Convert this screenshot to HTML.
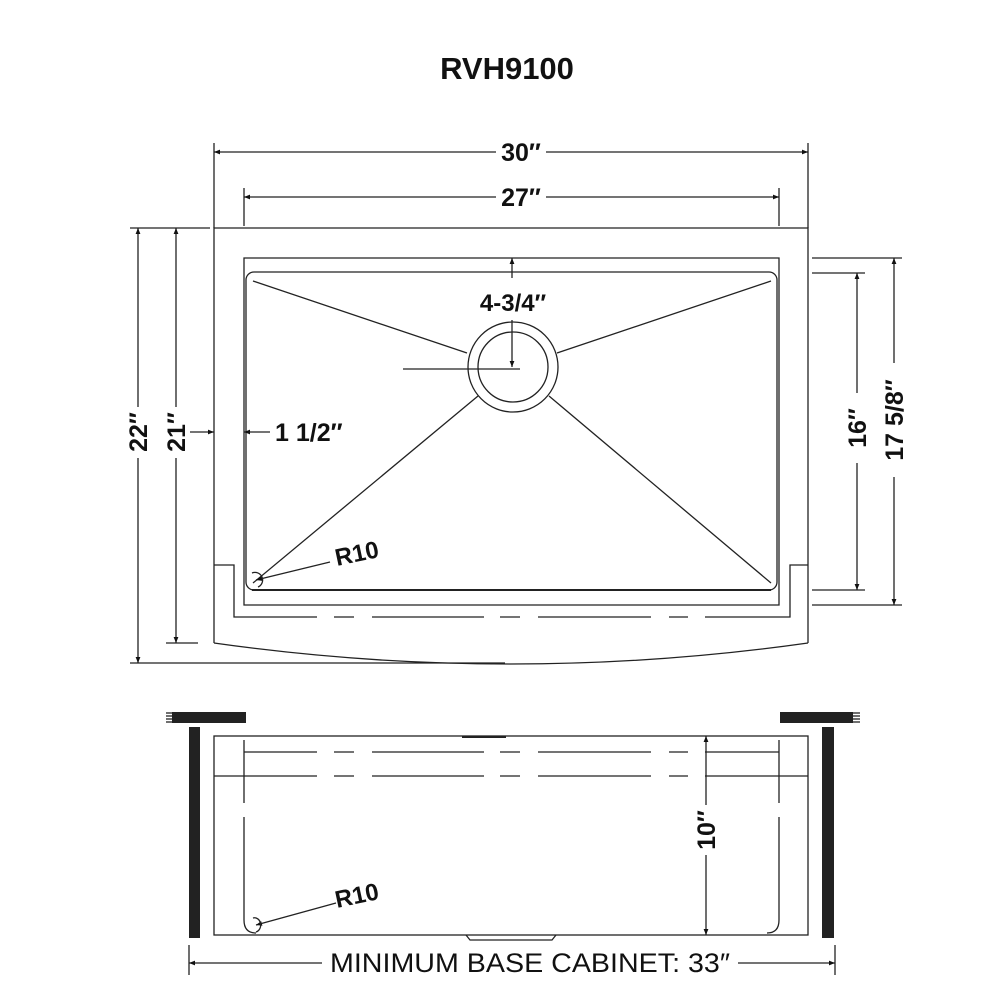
<!DOCTYPE html>
<html><head><meta charset="utf-8"><style>
html,body{margin:0;padding:0;background:#fff;width:1000px;height:1000px;overflow:hidden}
svg{display:block}
text{font-family:"Liberation Sans",sans-serif;fill:#111}
.b{font-weight:bold}
</style></head><body>
<svg width="1000" height="1000" viewBox="0 0 1000 1000" xmlns="http://www.w3.org/2000/svg">
<defs>
<marker id="a" viewBox="0 0 10 10" refX="10" refY="5" markerWidth="8" markerHeight="6" orient="auto-start-reverse" markerUnits="userSpaceOnUse"><path d="M0,1 L10,5 L0,9 z" fill="#111"/></marker>
</defs>
<text x="507" y="79" class="b" font-size="31" text-anchor="middle">RVH9100</text>

<g stroke="#222" stroke-width="1.3" fill="none">
<!-- top dims -->
<line x1="214" y1="143" x2="214" y2="228"/>
<line x1="808" y1="143" x2="808" y2="228"/>
<line x1="214" y1="152" x2="496" y2="152" marker-start="url(#a)"/>
<line x1="546" y1="152" x2="808" y2="152" marker-end="url(#a)"/>
<line x1="244" y1="188" x2="244" y2="226"/>
<line x1="779" y1="188" x2="779" y2="226"/>
<line x1="244" y1="197" x2="496" y2="197" marker-start="url(#a)"/>
<line x1="546" y1="197" x2="779" y2="197" marker-end="url(#a)"/>

<!-- left dims -->
<line x1="130" y1="228" x2="210" y2="228"/>
<line x1="130" y1="663" x2="505" y2="663"/>
<line x1="166" y1="643" x2="198" y2="643"/>
<line x1="138" y1="228" x2="138" y2="407" marker-start="url(#a)"/>
<line x1="138" y1="458" x2="138" y2="663" marker-end="url(#a)"/>
<line x1="176" y1="228" x2="176" y2="407" marker-start="url(#a)"/>
<line x1="176" y1="458" x2="176" y2="643" marker-end="url(#a)"/>

<!-- outer top view -->
<path d="M214,643 L214,228 L808,228 L808,643"/>
<path d="M214,643 Q511,685 808,643"/>
<path d="M214,565 L234,565 L234,617 L317,617"/>
<path d="M808,565 L790,565 L790,617 L705,617"/>
<path d="M334,617 H354 M372,617 H484 M500,617 H520 M538,617 H651 M669,617 H688"/>
<path d="M244,258 L779,258 L779,605 L244,605 Z"/>
<rect x="246" y="272" width="531" height="318" rx="8"/>
<line x1="252" y1="590" x2="771" y2="590" stroke-width="2"/>
<!-- diagonals -->
<line x1="253" y1="281" x2="467" y2="353"/>
<line x1="771" y1="281" x2="557" y2="353"/>
<line x1="253" y1="583" x2="478" y2="396"/>
<line x1="771" y1="583" x2="549" y2="396"/>
<circle cx="513" cy="367" r="45"/>
<circle cx="513" cy="367" r="35"/>
<line x1="403" y1="369" x2="520" y2="369"/>
<line x1="512" y1="258" x2="512" y2="278" marker-start="url(#a)"/>
<line x1="512" y1="320" x2="512" y2="367" marker-end="url(#a)"/>

<!-- 1 1/2 -->
<line x1="190" y1="432" x2="214" y2="432" marker-end="url(#a)"/>
<line x1="270" y1="432" x2="244" y2="432" marker-end="url(#a)"/>

<!-- right dims -->
<line x1="812" y1="258" x2="902" y2="258"/>
<line x1="812" y1="605" x2="902" y2="605"/>
<line x1="812" y1="273" x2="865" y2="273"/>
<line x1="812" y1="590" x2="865" y2="590"/>
<line x1="857" y1="273" x2="857" y2="393" marker-start="url(#a)"/>
<line x1="857" y1="463" x2="857" y2="590" marker-end="url(#a)"/>
<line x1="894" y1="258" x2="894" y2="363" marker-start="url(#a)"/>
<line x1="894" y1="477" x2="894" y2="605" marker-end="url(#a)"/>

<!-- R10 top -->
<line x1="330" y1="562" x2="256" y2="580" marker-end="url(#a)"/>
<path d="M252,573 A7,7 0 0 1 258,587"/>

<!-- bottom view -->
<rect x="214" y="736" width="594" height="199"/>
<path d="M244,752 H317 M334,752 H354 M372,752 H484 M500,752 H520 M538,752 H651 M669,752 H688 M705,752 H779"/>
<path d="M214,776 H317 M334,776 H354 M372,776 H484 M500,776 H520 M538,776 H651 M669,776 H688 M705,776 H808"/>
<path d="M244,740 V803 M244,817 V920"/>
<path d="M779,740 V803 M779,817 V920"/>
<path d="M244,920 Q244,933 256,933"/>
<path d="M779,920 Q779,933 767,933"/>
<path d="M466,935 L470,940 L552,940 L556,935"/>
<line x1="462" y1="737" x2="506" y2="737" stroke-width="2"/>
<line x1="706" y1="736" x2="706" y2="805" marker-start="url(#a)"/>
<line x1="706" y1="855" x2="706" y2="935" marker-end="url(#a)"/>
<line x1="336" y1="903" x2="256" y2="925" marker-end="url(#a)"/>
<path d="M253,918 A6,7 0 0 1 256,932"/>

<!-- bottom dim -->
<line x1="189" y1="945" x2="189" y2="975"/>
<line x1="835" y1="945" x2="835" y2="975"/>
<line x1="189" y1="963" x2="322" y2="963" marker-start="url(#a)"/>
<line x1="738" y1="963" x2="835" y2="963" marker-end="url(#a)"/>
</g>

<!-- cabinet walls and counters -->
<rect x="189" y="727" width="11" height="211" fill="#222"/>
<rect x="822" y="727" width="12" height="211" fill="#222"/>
<rect x="172" y="712" width="74" height="11" fill="#222"/>
<rect x="780" y="712" width="73" height="11" fill="#222"/>
<g stroke="#222" stroke-width="1.3">
<line x1="166" y1="713" x2="174" y2="713"/><line x1="166" y1="716" x2="174" y2="716"/><line x1="166" y1="719" x2="174" y2="719"/><line x1="166" y1="722" x2="174" y2="722"/>
<line x1="851" y1="713" x2="860" y2="713"/><line x1="851" y1="716" x2="860" y2="716"/><line x1="851" y1="719" x2="860" y2="719"/><line x1="851" y1="722" x2="860" y2="722"/>
</g>

<text x="521" y="161" class="b" font-size="25" text-anchor="middle">30″</text>
<text x="521" y="206" class="b" font-size="25" text-anchor="middle">27″</text>
<text x="513" y="311" class="b" font-size="24" text-anchor="middle">4-3/4″</text>
<text x="275" y="441" class="b" font-size="25">1 1/2″</text>
<text class="b" font-size="25" text-anchor="middle" transform="translate(147,432) rotate(-90)">22″</text>
<text class="b" font-size="25" text-anchor="middle" transform="translate(185,432) rotate(-90)">21″</text>
<text class="b" font-size="25" text-anchor="middle" transform="translate(866,428) rotate(-90)">16″</text>
<text class="b" font-size="25" text-anchor="middle" transform="translate(903,420) rotate(-90)">17 5/8″</text>
<text class="b" font-size="24" transform="translate(337,566) rotate(-12)">R10</text>
<text class="b" font-size="24" transform="translate(337,908) rotate(-12)">R10</text>
<text class="b" font-size="25" text-anchor="middle" transform="translate(715,830) rotate(-90)">10″</text>
<text x="530" y="972" font-size="27" text-anchor="middle" textLength="400" lengthAdjust="spacingAndGlyphs">MINIMUM BASE CABINET: 33″</text>
</svg>
</body></html>
